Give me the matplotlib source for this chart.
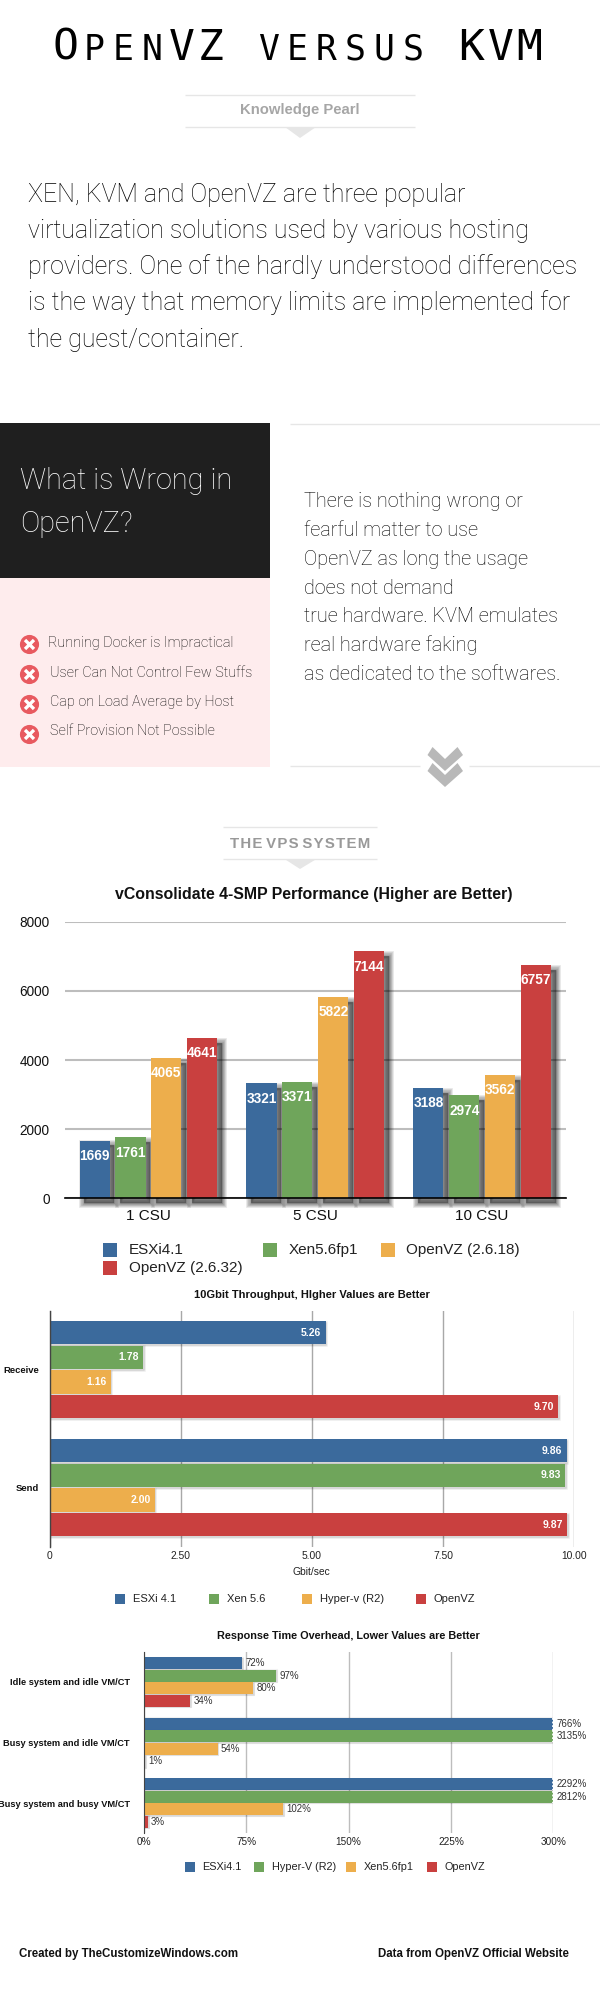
import matplotlib
matplotlib.use('Agg')
import matplotlib.pyplot as plt
import matplotlib.patheffects as pe
from matplotlib.patches import Rectangle, Polygon
import numpy as np

W, H = 600, 1995

BLUE = '#3b6a9c'
GREEN = '#6fa55b'
ORANGE = '#edae4c'
RED = '#c9403f'
SERIES_COLORS = [BLUE, GREEN, ORANGE, RED]

LIGHT = ['Roboto', 'Lato', 'DejaVu Sans']
HELV = ['Liberation Sans', 'DejaVu Sans']

# texts
titleChars = 'OpenVZ versus KVM'
introLines = ['XEN, KVM and OpenVZ are three popular',
              'virtualization solutions used by various hosting',
              'providers. One of the hardly understood differences',
              'is the way that memory limits are implemented for',
              'the guest/container.']
wrongItems = ['Running Docker is Impractical', 'User Can Not Control Few Stuffs',
              'Cap on Load Average by Host', 'Self Provision Not Possible']
rightLines = ['There is nothing wrong or', 'fearful matter to use',
              'OpenVZ as long the usage', 'does not demand',
              'true hardware. KVM emulates', 'real hardware faking',
              'as dedicated to the softwares.']

# chart 1
csuCats = ['1 CSU', '5 CSU', '10 CSU']
csuTicks = [0, 2000, 4000, 6000, 8000]
csuNames = ['ESXi4.1', 'Xen5.6fp1', 'OpenVZ (2.6.18)', 'OpenVZ (2.6.32)']
csuEsxi = [1669, 3321, 3188]
csuXen = [1761, 3371, 2974]
csuVz18 = [4065, 5822, 3562]
csuVz32 = [4641, 7144, 6757]

# chart 2
netCats = ['Receive', 'Send']
netTicks = [0, 2.5, 5, 7.5, 10]
netTickLabels = ['0', '2.50', '5.00', '7.50', '10.00']
netNames = ['ESXi 4.1', 'Xen 5.6', 'Hyper-v (R2)', 'OpenVZ']
netEsxi = [5.26, 9.86]
netXen = [1.78, 9.83]
netHyper = [1.16, 2.00]
netVz = [9.70, 9.87]

# chart 3
respCats = ['Idle system and idle VM/CT', 'Busy system and idle VM/CT',
            'Busy system and busy VM/CT']
respTicks = [0, 75, 150, 225, 300]
respNames = ['ESXi4.1', 'Hyper-V (R2)', 'Xen5.6fp1', 'OpenVZ']
respEsxi = [72, 766, 2292]
respHyper = [97, 3135, 2812]
respXen = [80, 54, 102]
respVz = [34, 1, 3]

fig = plt.figure(figsize=(W / 100, H / 100), dpi=100, facecolor='white')
page = fig.add_axes([0, 0, 1, 1])
page.set_xlim(0, W)
page.set_ylim(H, 0)
page.axis('off')


def addAxes(left, top, right, bottom):
  ax = fig.add_axes([left / W, 1 - bottom / H, (right - left) / W, (bottom - top) / H])
  ax.set_facecolor('none')
  return ax


def hline(x0, x1, y, color='#e6e6e6', lw=1.0):
  page.plot([x0, x1], [y, y], color=color, lw=lw, solid_capstyle='butt')


def shadow(patch, dist, widths, alpha):
  effects = [pe.PathPatchEffect(offset=(dist, -dist), facecolor='black', edgecolor='black',
                                linewidth=w, alpha=alpha) for w in widths]
  patch.set_path_effects(effects + [pe.Normal()])


def legendRow(names, squareX, textX, y, size, fontsize):
  for name, color, sx, tx in zip(names, SERIES_COLORS, squareX, textX):
    page.add_patch(Rectangle((sx, y - size / 2), size, size, color=color, lw=0))
    page.text(tx, y, name, fontsize=fontsize, family=HELV, color='#222222', va='center')


# header
xs = 65.4 + 29 * np.arange(len(titleChars))
for ch, x in zip(titleChars, xs):
  if ch == ' ':
    continue
  isBig = ch.isupper()
  page.text(x, 60, ch.upper(), family='DejaVu Sans Mono', fontsize=31 if isBig else 25,
            ha='center', va='baseline', color='black')

hline(185, 415, 95)
hline(185, 415, 127)
page.add_patch(Polygon([(285, 127), (316, 127), (300, 138)], color='#e6e6e6', lw=0))
page.text(300, 110, 'Knowledge Pearl', family=HELV, fontsize=10.7, weight='bold',
          color='#a6a6a6', ha='center', va='center')

for line, y in zip(introLines, [202, 238, 274, 310, 347]):
  page.text(28, y, line, family=LIGHT, weight='light', fontsize=18, color='black', va='baseline')

# left panel
page.add_patch(Rectangle((0, 423), 270, 155, color='#1f1f1f', lw=0))
page.add_patch(Rectangle((0, 578), 270, 189, color='#feeced', lw=0))
page.text(20.5, 489, 'What is Wrong in', family=LIGHT, weight='light', fontsize=20.8,
          color='white', va='baseline')
page.text(20.5, 532, 'OpenVZ?', family=LIGHT, weight='light', fontsize=20.8,
          color='white', va='baseline')

bulletY = [643.7, 674, 703.7, 733.7]
textY = [643, 673, 702, 731]
textX = [48, 49.5, 49.5, 50]
page.scatter([29] * 4, bulletY, s=190, color='#e85a60', lw=0, zorder=3)
page.scatter([29] * 4, bulletY, s=42, marker='x', color='white', lw=2.4, zorder=4)
for item, x, y in zip(wrongItems, textX, textY):
  page.text(x, y, item, family=LIGHT, weight='light', fontsize=10.4, color='black', va='center')

# right panel
hline(290, 600, 424.3)
hline(290, 420, 766.3)
hline(469, 600, 766.3)
for line, y in zip(rightLines, [507, 536, 565, 593.7, 622.3, 651, 680]):
  page.text(304, y, line, family=LIGHT, weight='light', fontsize=14.3, color='black', va='baseline')

chevron = np.array([(427.5, 755), (432.5, 747), (445, 759), (457.5, 747), (463, 755), (445, 771)])
page.add_patch(Polygon(chevron, color='#b8b8b8', lw=0))
page.add_patch(Polygon(chevron + [0, 16], color='#b8b8b8', lw=0))

hline(223, 377, 827.3)
hline(223, 377, 859.3)
page.add_patch(Polygon([(285, 859.3), (316, 859.3), (300, 869)], color='#e6e6e6', lw=0))
page.text(300, 844, 'T H E  V P S  S Y S T E M'.replace('  ', '   ').replace(' ', '\u200a'),
          family=HELV, fontsize=10.8, weight='bold', color='#999999', ha='center', va='center')

# chart 1
page.text(314, 894.7, 'vConsolidate 4-SMP Performance (Higher are Better)', family=HELV,
          weight='bold', fontsize=11.4, color='#111111', ha='center', va='center')
ax = addAxes(65, 921.7, 565.6, 1198.3)
pos = np.arange(len(csuCats))
pitch, barW = 0.215, 0.18
for i, vals in enumerate([csuEsxi, csuXen, csuVz18, csuVz32]):
  bars = ax.bar(pos + (i - 1.5) * pitch, vals, barW, color=SERIES_COLORS[i], zorder=3, clip_on=False)
  for b in bars:
    shadow(b, 3.5, [7, 5.5, 4, 2.5, 1], 0.1)
  ax.bar_label(bars, padding=-16, color='white', fontsize=9.8, family=HELV, weight='bold', zorder=5)
ax.set_xlim(-0.5, 2.5)
ax.set_ylim(0, 8000)
ax.set_yticks(csuTicks)
ax.set_xticks(pos)
ax.set_xticklabels(csuCats, family=HELV, fontsize=11, color='#111111')
ax.set_yticklabels([str(t) for t in csuTicks], family=HELV, fontsize=9.8, color='#111111')
ax.tick_params(axis='both', length=0)
ax.tick_params(axis='x', pad=8)
ax.tick_params(axis='y', pad=11)
ax.grid(axis='y', color='#bdbdbd', lw=1.5)
ax.set_axisbelow(True)
for s in ['left', 'right', 'top']:
  ax.spines[s].set_visible(False)
ax.spines['bottom'].set_linewidth(1.2)
ax.spines['bottom'].set_zorder(6)

legendRow(csuNames[:3], [103, 263, 381], [129, 289, 406.4], 1250, 14, 11)
page.add_patch(Rectangle((103, 1261.3), 14, 14, color=RED, lw=0))
page.text(129, 1268.3, csuNames[3], family=HELV, fontsize=11, color='#222222', va='center')

# chart 2
page.text(312, 1295, '10Gbit Throughput, HIgher Values are Better', family=HELV, weight='bold',
          fontsize=8, color='#111111', ha='center', va='center')
ax = addAxes(49.8, 1310.7, 574, 1546.7)
pos = np.arange(len(netCats))
pitch, barH = 0.2085, 0.198
for i, vals in enumerate([netEsxi, netXen, netHyper, netVz]):
  ys = pos + (i - 1.5) * pitch
  bars = ax.barh(ys, vals, barH, color=SERIES_COLORS[i], zorder=3)
  for b in bars:
    shadow(b, 0.5, [2, 1], 0.05)
  for v, y in zip(vals, ys):
    ax.annotate('%.2f' % v, (v, y), xytext=(-3, 0), textcoords='offset points', ha='right',
                va='center', color='white', fontsize=7.5, family=HELV, weight='bold', zorder=5)
ax.set_xlim(0, 10)
ax.set_ylim(1.5, -0.5)
ax.set_xticks(netTicks)
ax.set_xticklabels(netTickLabels, family=HELV, fontsize=7.4, color='#222222')
ax.set_yticks(pos)
ax.set_yticklabels(netCats, family=HELV, fontsize=6.8, weight='bold', color='#111111')
ax.tick_params(axis='both', length=0)
ax.tick_params(axis='x', pad=3)
ax.tick_params(axis='y', pad=8)
ax.grid(axis='x', color='#a8a8a8', lw=1.0)
ax.set_axisbelow(True)
for s in ['right', 'top', 'bottom']:
  ax.spines[s].set_visible(False)
ax.spines['left'].set_color('#444444')
ax.spines['left'].set_linewidth(1.0)
ax.spines['left'].set_zorder(6)
page.text(311.5, 1571.7, 'Gbit/sec', family=HELV, fontsize=7.4, color='#222222', ha='center', va='center')
legendRow(netNames, [114.8, 208.6, 301.6, 415.6], [132.8, 226.6, 319.6, 433.2], 1599.3, 10, 8)

# chart 3
page.text(348, 1635.7, 'Response Time Overhead, Lower Values are Better', family=HELV, weight='bold',
          fontsize=7.8, color='#111111', ha='center', va='center')
ax = addAxes(143.9, 1651.7, 553.4, 1833.3)
pos = np.arange(len(respCats))
pitch, barH = 0.208, 0.198
for i, vals in enumerate([respEsxi, respHyper, respXen, respVz]):
  ys = pos + (i - 1.5) * pitch
  bars = ax.barh(ys, vals, barH, color=SERIES_COLORS[i], zorder=3)
  for b in bars:
    shadow(b, 0.4, [1.5, 0.8], 0.05)
  for v, y in zip(vals, ys):
    ax.annotate('%d%%' % v, (min(v, 300), y), xytext=(2.2, 0), textcoords='offset points',
                ha='left', va='center', color='#333333', fontsize=7, family=HELV,
                annotation_clip=False, zorder=5)
    if v > 300:
      # bars running off the scale end in a torn edge
      ax.vlines(300, y - barH / 2, y + barH / 2, color='white', linestyle=(0, (1, 1)), lw=1.3,
                zorder=4, clip_on=False)
ax.set_xlim(0, 300)
ax.set_ylim(2.5, -0.5)
ax.set_xticks(respTicks)
ax.set_xticklabels(['%d%%' % t for t in respTicks], family=HELV, fontsize=7.2, color='#222222')
ax.set_yticks(pos)
ax.set_yticklabels(respCats, family=HELV, fontsize=6.7, weight='bold', color='#111111')
ax.tick_params(axis='both', length=0)
ax.tick_params(axis='x', pad=3)
ax.tick_params(axis='y', pad=10)
ax.grid(axis='x', color='#bdbdbd', lw=1.0)
ax.set_axisbelow(True)
for s in ['right', 'top', 'bottom']:
  ax.spines[s].set_visible(False)
ax.spines['left'].set_color('#444444')
ax.spines['left'].set_linewidth(0.8)
ax.spines['left'].set_zorder(6)
legendRow(respNames, [184.5, 253.7, 346, 427], [202, 271.7, 363.6, 444.7], 1867.3, 10, 7.8)

# footer
page.text(19, 1953.7, 'Created by TheCustomizeWindows.com', family=HELV, weight='bold',
          fontsize=8.3, color='#111111', va='center')
page.text(377.7, 1953.7, 'Data from OpenVZ Official Website', family=HELV, weight='bold',
          fontsize=8.3, color='#111111', va='center')

fig.savefig('out.png', dpi=100)
